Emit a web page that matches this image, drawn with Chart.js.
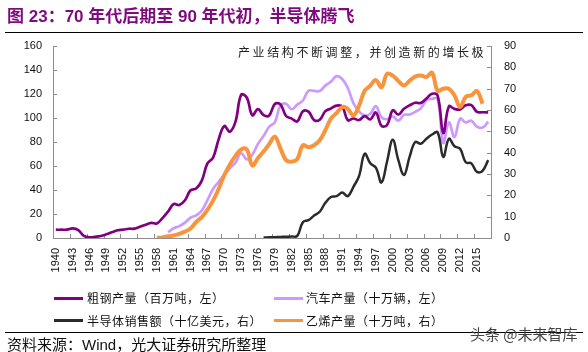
<!DOCTYPE html>
<html><head><meta charset="utf-8">
<script src="https://cdn.jsdelivr.net/npm/chart.js@4/dist/chart.umd.min.js"></script>
<style>
html,body{margin:0;padding:0;background:#fff;}
#wrap{position:relative;width:588px;height:352px;overflow:hidden;background:#fff;font-family:"Liberation Sans","Noto Sans CJK SC",sans-serif;}
canvas{position:absolute;left:0;top:0;}
#title{position:absolute;left:7px;top:7px;font-size:17px;font-weight:bold;color:#7E0A7E;white-space:nowrap;line-height:20px;}
.rule{position:absolute;left:5px;width:578px;height:1px;background:#000;}
#note{position:absolute;left:238px;top:45px;font-size:12px;line-height:14px;letter-spacing:2.6px;color:#222;white-space:nowrap;font-family:"Noto Sans CJK SC",sans-serif;}
.legtxt{position:absolute;font-size:12px;line-height:14px;letter-spacing:0.5px;white-space:nowrap;color:#111;font-family:"Noto Sans CJK SC",sans-serif;}
.legline{position:absolute;width:29px;height:3px;}
#src{position:absolute;left:7px;top:336px;font-size:15px;line-height:17px;color:#111;white-space:nowrap;}
#wm{position:absolute;left:470px;top:325px;font-size:15px;line-height:17px;color:#444;white-space:nowrap;font-family:"Noto Sans CJK SC",sans-serif;}
</style></head>
<body>
<div id="wrap">
<canvas id="c" width="588" height="352"></canvas>
<div id="title">图 23：70 年代后期至 90 年代初，半导体腾飞</div>
<div class="rule" style="top:32px"></div>
<div id="note">产业结构不断调整，并创造新的增长极</div>
<div id="legend"></div>
<div class="rule" style="top:332px"></div>
<div id="src">资料来源：Wind，光大证券研究所整理</div>
<div id="wm">头条 @未来智库</div>
</div>
<script>
const years = ['1940','1941','1942','1943','1944','1945','1946','1947','1948','1949',
'1950','1951','1952','1953','1954','1955','1956','1957','1958','1959',
'1960','1961','1962','1963','1964','1965','1966','1967','1968','1969',
'1970','1971','1972','1973','1974','1975','1976','1977','1978','1979',
'1980','1981','1982','1983','1984','1985','1986','1987','1988','1989',
'1990','1991','1992','1993','1994','1995','1996','1997','1998','1999',
'2000','2001','2002','2003','2004','2005','2006','2007','2008','2009',
'2010','2011','2012','2013','2014','2015','2016','2017'];

const tickYears = ['1940','1943','1946','1949','1952','1955','1958','1961','1964','1967','1970','1973','1976','1979','1982','1985','1988','1991','1994','1997','2000','2003','2006','2009','2012','2015'];

// 粗钢产量（百万吨，左）
const steel = [6.9,6.9,7.0,8.0,6.6,1.8,0.6,1.0,1.7,3.1,
4.8,6.5,7.0,7.7,7.8,9.4,11.1,12.6,12.1,16.6,
22.1,28.3,27.5,31.5,39.8,41.2,47.8,62.2,66.9,82.2,
93.3,88.6,96.9,119.3,117.1,102.3,107.4,102.4,102.1,111.7,
111.4,101.7,99.5,97.2,105.6,105.3,98.3,98.5,105.7,107.9,
110.3,109.6,98.1,99.6,98.3,101.6,98.8,104.5,93.5,94.2,
106.4,102.9,107.7,110.5,112.7,112.5,116.2,120.2,118.7,87.5,
109.6,107.6,107.2,110.6,110.7,105.1,104.8,104.7];

// 汽车产量（十万辆，左）
const cars = [null,null,null,null,null,null,null,null,null,null,
null,null,null,null,null,null,null,null,null,null,
4.8,8.1,9.9,12.8,17.0,18.8,22.9,31.5,40.9,46.7,
52.9,58.1,62.9,70.8,65.5,69.4,78.4,85.1,92.7,96.4,
110.4,111.8,107.3,111.1,114.6,122.7,122.6,122.5,127.0,130.3,
134.9,132.5,125.0,112.3,105.5,102.0,103.5,109.8,100.5,99.0,
101.4,97.8,102.6,102.9,105.1,108.0,114.8,116.0,115.8,79.3,
96.3,84.0,99.4,96.3,97.7,92.8,92.0,96.9];

// 半导体销售额（十亿美元，右）
const semis = [null,null,null,null,null,null,null,null,null,null,
null,null,null,null,null,null,null,null,null,null,
null,null,null,null,null,null,null,null,null,null,
null,null,null,null,null,null,null,0.2,0.3,0.4,
0.5,0.6,0.7,1.0,7.4,8.4,10.5,12.3,16.5,19.2,
19.6,21.3,19.6,24.0,29.0,39.5,35.0,33.0,26.0,36.0,
46.0,36.5,29.5,38.0,45.0,44.2,46.5,48.5,49.5,38.0,
46.5,43.0,41.8,35.5,35.0,31.0,31.5,36.5];

// 乙烯产量（十万吨，右）
const ethylene = [null,null,null,null,null,null,null,null,null,null,
null,null,null,null,null,null,null,null,0.1,0.3,
0.8,1.2,2.0,3.0,4.5,7.5,9.8,13.2,17.5,23.0,
29.5,34.5,38.5,41.5,41.5,34.0,37.5,40.5,44.0,47.5,
42.0,36.5,35.8,37.0,43.5,42.5,43.5,45.8,50.5,56.0,
58.5,61.4,60.5,57.5,62.0,69.0,71.4,74.0,70.7,76.9,
76.1,73.6,71.5,73.7,75.7,76.2,75.5,77.4,69.0,70.0,
70.0,66.8,61.4,66.2,66.9,68.9,62.9,null];

const series = [
  {label:'粗钢产量（百万吨，左）', data:steel, color:'#800080', width:2.7, axis:'y', order:2, col:0, row:0},
  {label:'汽车产量（十万辆，左）', data:cars, color:'#CC99FF', width:2.7, axis:'y', order:3, col:1, row:0},
  {label:'半导体销售额（十亿美元，右）', data:semis, color:'#2B2B2B', width:2.5, axis:'y2', order:1, col:0, row:1},
  {label:'乙烯产量（十万吨，右）', data:ethylene, color:'#F8943C', width:4, axis:'y2', order:0, col:1, row:1}
];

const AXIS = '#8c8c8c';
const innerTicks = {
  id:'innerTicks',
  beforeDatasetsDraw(chart){
    const {ctx, chartArea:a, scales} = chart;
    const L = 4;
    ctx.save();
    ctx.strokeStyle = AXIS; ctx.lineWidth = 1;
    ctx.beginPath();
    scales.y.ticks.forEach(t=>{const y=Math.round(scales.y.getPixelForValue(t.value))+0.5; ctx.moveTo(a.left,y); ctx.lineTo(a.left+L,y);});
    scales.y2.ticks.forEach(t=>{const y=Math.round(scales.y2.getPixelForValue(t.value))+0.5; ctx.moveTo(a.right-L,y); ctx.lineTo(a.right,y);});
    for(let i=0;i<=years.length;i+=3){const x=Math.round(scales.x.getPixelForValue(i-0.5))+0.5; ctx.moveTo(x,a.bottom); ctx.lineTo(x,a.bottom-L);}
    ctx.stroke();
    ctx.restore();
  }
};

const tickFont = {family:'Liberation Sans', size:11};
new Chart(document.getElementById('c'), {
  type:'line',
  data:{
    labels:years,
    datasets: series.map(s=>({label:s.label, data:s.data, borderColor:s.color, backgroundColor:s.color, borderWidth:s.width, yAxisID:s.axis, order:s.order, pointRadius:0, tension:0.4, fill:false, spanGaps:false}))
  },
  options:{
    responsive:false, animation:false, devicePixelRatio:1,
    layout:{padding:{top:46,left:0,right:0,bottom:0}},
    plugins:{legend:{display:false}, tooltip:{enabled:false}, title:{display:false}},
    scales:{
      x:{type:'category', offset:true,
         grid:{display:false, drawTicks:false},
         border:{display:true, color:AXIS, width:1},
         ticks:{autoSkip:false, minRotation:90, maxRotation:90, padding:10, font:tickFont, color:'#111',
                callback:(v,i)=> tickYears.includes(years[i]) ? years[i] : ''},
         afterFit:(s)=>{s.height=114;}},
      y:{position:'left', min:0, max:160,
         grid:{display:false, drawTicks:false},
         border:{display:true, color:AXIS, width:1},
         ticks:{stepSize:20, padding:11, font:tickFont, color:'#111'},
         afterFit:(s)=>{s.width=53;}},
      y2:{position:'right', min:0, max:90,
         grid:{display:false, drawTicks:false},
         border:{display:true, color:AXIS, width:1},
         ticks:{stepSize:10, padding:13, font:tickFont, color:'#111'},
         afterFit:(s)=>{s.width=97;}}
    }
  },
  plugins:[innerTicks]
});

// legend built from the same series
const leg = document.getElementById('legend');
const colLine = [54, 274], colText = [87, 306], rowY = [298, 320.5];
series.forEach(s=>{
  const ln = document.createElement('div');
  ln.className='legline'; ln.style.background=s.color;
  ln.style.left=colLine[s.col]+'px'; ln.style.top=(rowY[s.row]-1.5)+'px';
  leg.appendChild(ln);
  const tx = document.createElement('div');
  tx.className='legtxt'; tx.textContent=s.label;
  tx.style.left=colText[s.col]+'px'; tx.style.top=(rowY[s.row]-7)+'px';
  leg.appendChild(tx);
});
</script>
</body></html>
